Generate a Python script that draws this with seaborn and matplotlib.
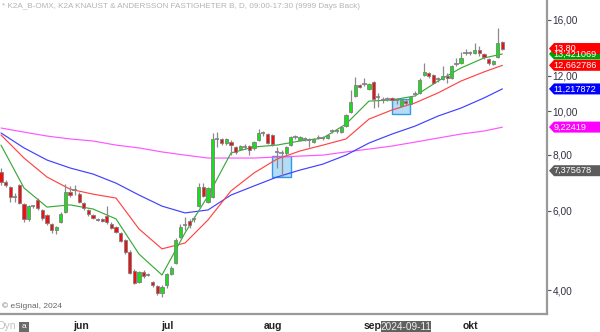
import numpy as np
import pandas as pd
import matplotlib
matplotlib.use("Agg")
import matplotlib.pyplot as plt
import seaborn as sns
from matplotlib.patches import Polygon, Rectangle
from matplotlib.transforms import IdentityTransform
from matplotlib.ticker import FixedLocator, NullLocator

# ---------------- data ----------------
open_ = [7.33, 6.96, 6.78, 6.44, 6.85, 6.22, 5.76, 6.15, 6.35, 6.03,
         5.88, 5.61, 5.44, 5.67, 5.97, 6.61, 6.68, 6.54, 6.25, 6.03,
         5.88, 5.76, 5.76, 5.85, 5.61, 5.53, 5.36, 5.17, 4.86, 4.41,
         4.17, 4.39, 4.32, 4.17, 4.08, 3.94, 4.10, 4.34, 4.59, 5.25,
         5.58, 5.70, 5.76, 6.15, 6.78, 6.28, 6.44, 8.68, 8.68, 8.50,
         8.54, 8.33, 8.24, 8.33, 8.37, 8.29, 8.63, 8.95, 8.90, 8.86,
         8.12, 8.08, 8.08, 8.41, 8.77, 8.63, 8.68, 8.63, 8.54, 8.72,
         8.72, 8.72, 9.04, 9.04, 9.00, 9.27, 9.96, 10.82, 11.45, 11.50,
         11.21, 11.62, 10.76, 10.60, 10.65, 10.71, 10.60, 10.28, 10.54, 10.38,
         10.93, 10.99, 12.05, 12.17, 12.05, 11.80, 11.80, 11.99, 11.86, 12.75,
         12.81, 13.49, 13.49, 13.49, 13.70, 13.42, 13.08, 12.75, 13.21, 14.27]
high = [7.48, 7.03, 6.82, 6.58, 6.89, 6.25, 6.19, 6.19, 6.41, 6.06,
        5.91, 5.64, 5.55, 5.97, 6.89, 6.82, 6.85, 6.61, 6.28, 6.06,
        5.91, 5.79, 5.79, 6.15, 5.67, 5.55, 5.39, 5.20, 4.91, 4.46,
        4.41, 4.43, 4.36, 4.19, 4.10, 4.10, 4.36, 4.52, 5.22, 5.61,
        5.82, 5.76, 5.85, 6.92, 6.92, 6.78, 8.95, 9.00, 8.72, 8.72,
        8.63, 8.37, 8.41, 8.46, 8.41, 8.59, 9.13, 9.04, 8.95, 8.90,
        8.33, 8.20, 8.37, 8.81, 8.86, 8.81, 8.77, 8.72, 8.72, 8.86,
        8.81, 8.90, 9.13, 9.13, 9.27, 9.86, 11.16, 11.92, 11.50, 11.86,
        11.56, 11.68, 10.99, 10.76, 10.76, 10.76, 10.71, 10.65, 10.65, 10.82,
        11.10, 11.86, 12.81, 12.23, 12.11, 11.92, 12.62, 12.17, 12.68, 13.15,
        13.56, 13.77, 13.63, 14.20, 13.98, 13.49, 13.15, 13.01, 15.33, 14.34]
low = [6.85, 6.78, 6.28, 6.28, 6.22, 5.67, 5.70, 6.09, 6.03, 5.73,
       5.58, 5.36, 5.33, 5.64, 5.94, 6.44, 6.51, 6.25, 6.03, 5.85,
       5.76, 5.70, 5.67, 5.61, 5.47, 5.36, 5.12, 4.81, 4.34, 4.13,
       4.15, 4.25, 4.30, 4.06, 3.90, 3.86, 4.04, 4.32, 4.57, 5.22,
       5.44, 5.50, 5.67, 6.12, 6.44, 6.25, 6.41, 8.33, 8.41, 8.41,
       7.99, 8.03, 8.20, 8.24, 7.99, 8.20, 8.59, 8.81, 8.46, 8.37,
       7.48, 7.14, 7.99, 8.37, 8.68, 8.59, 8.59, 8.33, 8.50, 8.68,
       8.63, 8.68, 8.95, 8.95, 8.95, 9.23, 9.91, 10.76, 11.27, 11.39,
       11.16, 10.17, 10.23, 10.44, 10.54, 10.49, 10.38, 10.23, 10.33, 10.33,
       10.82, 10.93, 11.99, 11.86, 11.50, 11.62, 11.74, 11.56, 11.80, 12.62,
       12.75, 13.35, 13.35, 13.42, 13.28, 13.08, 12.68, 12.68, 13.15, 13.70]
close = [6.96, 6.85, 6.44, 6.44, 6.25, 5.76, 6.15, 6.15, 6.09, 5.79,
         5.64, 5.44, 5.53, 5.91, 6.61, 6.51, 6.68, 6.28, 6.09, 5.91,
         5.79, 5.73, 5.70, 5.67, 5.50, 5.39, 5.14, 4.86, 4.36, 4.15,
         4.39, 4.30, 4.32, 4.10, 3.94, 4.06, 4.34, 4.48, 5.17, 5.53,
         5.58, 5.58, 5.76, 6.78, 6.48, 6.75, 8.68, 8.68, 8.50, 8.68,
         8.41, 8.12, 8.37, 8.33, 8.20, 8.54, 8.95, 8.95, 8.50, 8.46,
         8.12, 8.08, 8.33, 8.77, 8.77, 8.77, 8.68, 8.63, 8.68, 8.77,
         8.72, 8.86, 9.04, 9.04, 9.23, 9.81, 10.49, 11.45, 11.33, 11.50,
         11.50, 10.65, 10.76, 10.60, 10.65, 10.60, 10.60, 10.60, 10.44, 10.76,
         10.93, 11.74, 12.23, 11.99, 11.56, 11.80, 11.99, 11.86, 12.62, 12.75,
         13.15, 13.49, 13.49, 13.70, 13.49, 13.21, 12.81, 12.95, 14.20, 13.80]

ma_idx = [0, 5, 10, 15, 20, 25, 30, 35, 40, 45, 50, 55, 60, 65, 70, 75,
          80, 85, 90, 95, 100, 105, 109]
ma_green = [8.41, 6.75, 6.12, 6.19, 6.06, 5.76, 4.81, 4.32, 5.36, 6.48, 8.08, 8.33,
            8.41, 8.59, 8.72, 9.37, 10.54, 10.60, 10.82, 11.68, 12.49, 13.15, 13.42]
ma_red = [8.86, 7.87, 7.14, 6.71, 6.54, 6.41, 5.47, 4.94, 5.09, 5.73, 6.65, 7.29,
          7.83, 8.16, 8.41, 8.68, 9.61, 10.07, 10.44, 10.99, 11.68, 12.24, 12.66]
ma_blue = [8.95, 8.29, 7.79, 7.48, 7.25, 6.92, 6.51, 6.15, 5.94, 6.03, 6.51, 6.82,
           7.14, 7.40, 7.63, 7.99, 8.50, 8.90, 9.27, 9.76, 10.17, 10.71, 11.22]
ma_magenta = [9.18, 8.99, 8.81, 8.68, 8.59, 8.41, 8.29, 8.12, 7.99, 7.87, 7.87, 7.87,
              7.91, 7.95, 7.99, 8.12, 8.24, 8.37, 8.54, 8.72, 8.90, 9.04, 9.22]

month_labels = ["jun", "jul", "aug", "sep", "okt"]
month_pos = [17.4, 36.1, 59.1, 80.7, 102.0]
price_ticks = [4, 6, 8, 10, 12, 16]
price_tick_labels = ["4,00", "6,00", "8,00", "10,00", "12,00", "16,00"]

# highlighted boxes: (start idx, end idx, low price, high price)
box_x0 = [58.9, 85.0]
box_x1 = [63.0, 88.9]
box_lo = [7.14, 9.86]
box_hi = [7.95, 10.65]

# right-side value labels
tag_values = [9.22419, 11.217872, 7.375678, 13.421069, 12.662786, 13.80]
tag_texts = ["9,22419", "11,217872", "7,375678", "13,421069", "12,662786", "13,80"]
tag_colors = ["#ff00ff", "#0000ff", "#5c5c5c", "#00a000", "#ff0000", "#ff0000"]

# ---------------- figure ----------------
sns.set_style("white")
plt.rcParams["font.family"] = ["Liberation Sans", "DejaVu Sans"]

W, H = 600, 332
fig = plt.figure(figsize=(W / 100, H / 100), dpi=100)
ax_left, ax_right, ax_top, ax_bot = 0, 547, 0, 314
ax = fig.add_axes([ax_left / W, (H - ax_bot) / H, (ax_right - ax_left) / W, (ax_bot - ax_top) / H])
ax.set_facecolor("white")
ax.set_yscale("log")
ax.set_ylim(3.537, 17.70)
ax.set_xlim(-0.22, 118.7)

idx = np.arange(len(close))
df = pd.DataFrame({"i": idx, "o": open_, "h": high, "l": low, "c": close})

# boxes
for x0, x1, lo, hi in zip(box_x0, box_x1, box_lo, box_hi):
    ax.add_patch(Rectangle((x0, lo), x1 - x0, hi - lo, facecolor="#b5dcf7",
                           edgecolor="#2f9be8", lw=1.0, zorder=1))

# moving averages via seaborn
ma_df = pd.DataFrame({"i": ma_idx, "g": ma_green, "r": ma_red, "b": ma_blue, "m": ma_magenta})
for col, colr in [("m", "#ff55ff"), ("b", "#4040ff"), ("r", "#ff4444"), ("g", "#3aaa3a")]:
    sns.lineplot(data=ma_df, x="i", y=col, ax=ax, color=colr, lw=0.85, zorder=2)

# candles
ax.vlines(df["i"], df["l"], df["h"], color="#8a8a8a", lw=0.9, zorder=3)
up = df[df.c > df.o]
dn = df[df.c < df.o]
eq = df[df.c == df.o]
bw = 0.72
ax.bar(up["i"], up["c"] - up["o"], bottom=up["o"], width=bw, color="#18e018",
       edgecolor="#808080", lw=0.6, zorder=4)
ax.bar(dn["i"], dn["o"] - dn["c"], bottom=dn["c"], width=bw, color="#ee1111",
       edgecolor="#808080", lw=0.6, zorder=4)
ax.hlines(eq["c"], eq["i"] - bw / 2 - 0.1, eq["i"] + bw / 2 + 0.1, color="#808080", lw=1.2, zorder=4)

# axes styling
for s in ["left", "top"]:
    ax.spines[s].set_visible(False)
for s in ["right", "bottom"]:
    ax.spines[s].set_color("#9a9a9a")
    ax.spines[s].set_linewidth(1.6)
ax.yaxis.tick_right()
ax.yaxis.set_major_locator(FixedLocator(price_ticks))
ax.yaxis.set_minor_locator(NullLocator())
ax.set_yticklabels(price_tick_labels)
ax.tick_params(axis="y", direction="out", length=3, width=0.8, color="#555555",
               labelsize=7.3, labelcolor="#333344", pad=1, right=True, left=False)
ax.set_xticks(month_pos)
ax.set_xticklabels(month_labels, fontweight="bold")
ax.tick_params(axis="x", direction="in", length=2.5, width=0.8, color="#8a8a8a",
               labelsize=7.5, labelcolor="#222222", pad=5)
ax.set_xlabel("")
ax.set_ylabel("")
ax.grid(False)

# value tags on the right
fig.canvas.draw()
for val, txt, colr in zip(tag_values, tag_texts, tag_colors):
    yd = ax.transData.transform((0, val))[1]
    x_tip = 549
    h2 = 5.5
    pts = [(x_tip, yd), (x_tip + 5, yd + h2), (W + 2, yd + h2), (W + 2, yd - h2), (x_tip + 5, yd - h2)]
    fig.add_artist(Polygon(pts, closed=True, transform=IdentityTransform(),
                           facecolor=colr, edgecolor="none"))
    fig.text(x_tip + 4.5, yd, txt, transform=IdentityTransform(), color="white",
             fontsize=6.6, va="center", ha="left")

# header and footer texts
fig.text(2, H - 7, "* K2A_B-OMX, K2A KNAUST & ANDERSSON FASTIGHETER B, D, 09:00-17:30 (9999 Days Back)",
         transform=IdentityTransform(), fontsize=5.9, color="#b4b4b4", va="center", ha="left")
fig.text(2, H - 306, "\u00a9 eSignal, 2024", transform=IdentityTransform(),
         fontsize=6.0, color="#666666", va="center", ha="left")
fig.text(-3, H - 326, "Dyn", transform=IdentityTransform(), fontsize=7.5,
         color="#c0c0c0", va="center", ha="left")
fig.add_artist(Rectangle((19, H - 332), 10, 10, transform=IdentityTransform(),
                         facecolor="#6a6a6a", edgecolor="none"))
fig.text(24, H - 327, "a", transform=IdentityTransform(), fontsize=6,
         color="white", va="center", ha="center")
fig.add_artist(Rectangle((381, H - 332), 50, 11, transform=IdentityTransform(),
                         facecolor="#616161", edgecolor="none"))
fig.text(406, H - 326.5, "2024-09-11", transform=IdentityTransform(), fontsize=7.2,
         color="#eeeeee", va="center", ha="center")

fig.savefig("out.png", dpi=100)
